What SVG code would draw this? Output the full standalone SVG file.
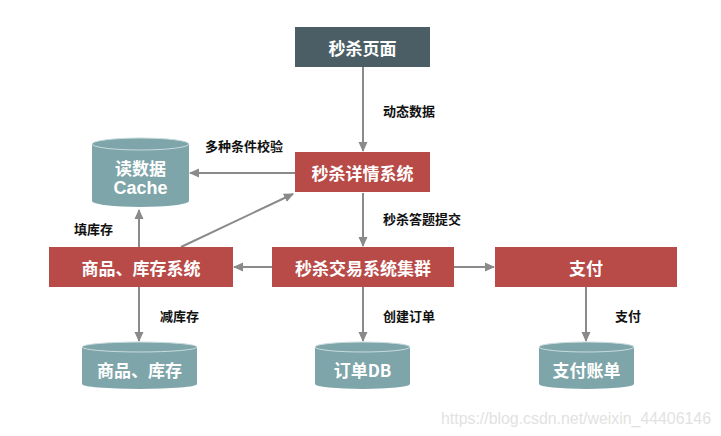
<svg xmlns="http://www.w3.org/2000/svg" width="721" height="436" viewBox="0 0 721 436">
<defs>
<marker id="ah" markerWidth="10" markerHeight="10" refX="9" refY="5" orient="auto" markerUnits="userSpaceOnUse">
<path d="M0,0.5 L10,5 L0,9.5 Z" fill="#8a8a8a"/>
</marker>
</defs>
<style>
.box{fill:#b84a47;}
.dark{fill:#4b5e65;}
.cyl{fill:#7ea5a9;}
.cyltop{fill:#7ea5a9;stroke:#c9dcde;stroke-width:1;}
.t{font-family:"Noto Sans CJK SC","Liberation Sans",sans-serif;font-weight:bold;fill:#ffffff;font-size:17px;text-anchor:middle;dominant-baseline:central;}
.lbl{font-family:"Noto Sans CJK SC","Liberation Sans",sans-serif;font-weight:bold;fill:#111111;font-size:13px;dominant-baseline:central;}
.e{stroke:#8a8a8a;stroke-width:2;fill:none;marker-end:url(#ah);}
.wm{font-family:"Liberation Sans",sans-serif;fill:#e2e2e2;font-size:16px;}
</style>
<rect width="721" height="436" fill="#ffffff"/>
<g id="connectors">
<line class="e" x1="363" y1="67" x2="363" y2="151"/>
<line class="e" x1="295" y1="173" x2="190" y2="173"/>
<line class="e" x1="363" y1="193" x2="363" y2="246"/>
<line class="e" x1="181" y1="247" x2="293" y2="194"/>
<line class="e" x1="139" y1="247" x2="139" y2="210"/>
<line class="e" x1="272" y1="267" x2="234" y2="267"/>
<line class="e" x1="454" y1="267" x2="494" y2="267"/>
<line class="e" x1="139" y1="287" x2="139" y2="341"/>
<line class="e" x1="363" y1="287" x2="363" y2="341"/>
<line class="e" x1="586" y1="287" x2="586" y2="341"/>
<text class="lbl" x="383" y="110">动态数据</text>
<text class="lbl" x="205" y="145">多种条件校验</text>
<text class="lbl" x="383" y="218">秒杀答题提交</text>
<text class="lbl" x="74" y="228">填库存</text>
<text class="lbl" x="160" y="315">减库存</text>
<text class="lbl" x="383" y="315">创建订单</text>
<text class="lbl" x="615" y="315">支付</text>
</g>
<g id="page">
<rect class="dark" x="295" y="27" width="135" height="40"/>
<text class="t" x="362.5" y="47">秒杀页面</text>
</g>
<g id="detail">
<rect class="box" x="295" y="152" width="135" height="40"/>
<text class="t" x="362.5" y="172">秒杀详情系统</text>
</g>
<g id="cache">
<path class="cyl" d="M92,144 L92,201 A48.5,6 0 0 0 189,201 L189,144 Z"/>
<ellipse class="cyltop" cx="140.5" cy="144" rx="48.5" ry="6"/>
<text class="t" x="140.5" y="167">读数据</text>
<text class="t" x="140.5" y="188" style="font-family:'Liberation Sans',sans-serif;font-size:18px;">Cache</text>
</g>
<g id="inventory-system">
<rect class="box" x="49" y="247" width="184" height="40"/>
<text class="t" x="141" y="267">商品、库存系统</text>
</g>
<g id="trade">
<rect class="box" x="272" y="247" width="182" height="40"/>
<text class="t" x="363" y="267">秒杀交易系统集群</text>
</g>
<g id="pay">
<rect class="box" x="495" y="247" width="182" height="40"/>
<text class="t" x="586" y="267">支付</text>
</g>
<g id="inventory-db">
<path class="cyl" d="M82,347 L82,384 A57.5,5 0 0 0 197,384 L197,347 Z"/>
<ellipse class="cyltop" cx="139.5" cy="347" rx="57.5" ry="5"/>
<text class="t" x="139.5" y="369">商品、库存</text>
</g>
<g id="order-db">
<path class="cyl" d="M315,347 L315,384 A47.5,5 0 0 0 410,384 L410,347 Z"/>
<ellipse class="cyltop" cx="362.5" cy="347" rx="47.5" ry="5"/>
<text class="t" x="362.5" y="369">订单DB</text>
</g>
<g id="pay-db">
<path class="cyl" d="M539,347 L539,384 A47.5,5 0 0 0 634,384 L634,347 Z"/>
<ellipse class="cyltop" cx="586.5" cy="347" rx="47.5" ry="5"/>
<text class="t" x="586.5" y="369">支付账单</text>
</g>
<text class="wm" x="441" y="424" textLength="270" lengthAdjust="spacingAndGlyphs">https://blog.csdn.net/weixin_44406146</text>
</svg>
